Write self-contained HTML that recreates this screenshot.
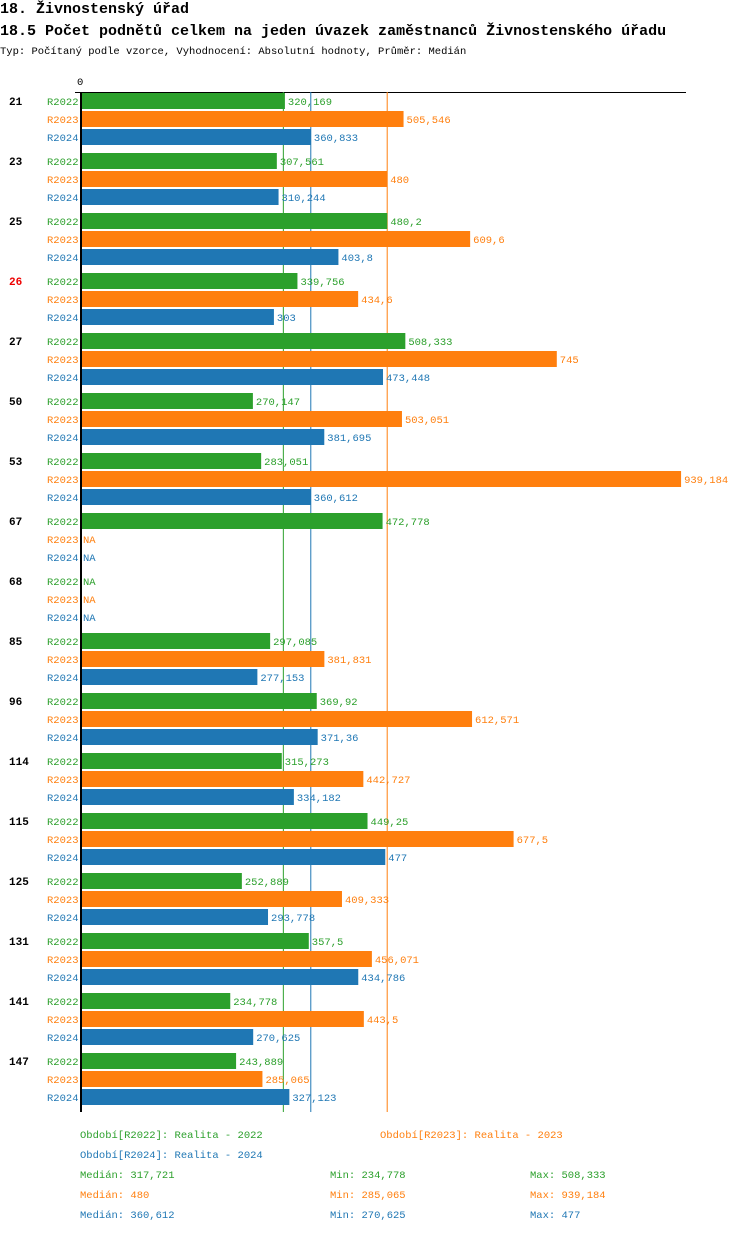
<!DOCTYPE html>
<html><head><meta charset="utf-8"><style>
body{margin:0;background:#fff;width:750px;height:1232px;overflow:hidden;font-family:"Liberation Mono",monospace}
</style></head><body>
<svg id="c" width="750" height="1232" xmlns="http://www.w3.org/2000/svg" font-family="Liberation Mono, monospace">
<text x="0" y="13" font-size="15" font-weight="bold" fill="#000">18. Živnostenský úřad</text>
<text x="0" y="35" font-size="15" font-weight="bold" fill="#000">18.5 Počet podnětů celkem na jeden úvazek zaměstnanců Živnostenského úřadu</text>
<text x="0" y="54" font-size="10.5" fill="#000">Typ: Počítaný podle vzorce, Vyhodnocení: Absolutní hodnoty, Průměr: Medián</text>
<text x="77" y="85" font-size="10.5" fill="#000">0</text>
<line x1="75" y1="92.5" x2="686" y2="92.5" stroke="#000" stroke-width="1"/>
<g id="lines"></g>
<g id="bars"></g>
<g id="legend" font-size="10.5"></g>
</svg>
<script>
const groups=["21","23","25","26","27","50","53","67","68","85","96","114","115","125","131","141","147"];
const r2022=[320.169,307.561,480.2,339.756,508.333,270.147,283.051,472.778,null,297.085,369.92,315.273,449.25,252.889,357.5,234.778,243.889];
const r2023=[505.546,480,609.6,434.6,745,503.051,939.184,null,null,381.831,612.571,442.727,677.5,409.333,456.071,443.5,285.065];
const r2024=[360.833,310.244,403.8,303,473.448,381.695,360.612,null,null,277.153,371.36,334.182,477,293.778,434.786,270.625,327.123];
const seriesNames=["R2022","R2023","R2024"];
const medians=[317.721,480,360.612];
const mins=[234.778,285.065,270.625];
const maxs=[508.333,939.184,477];
const colors=["#2ca02c","#ff7f0e","#1f77b4"];
const NS="http://www.w3.org/2000/svg";
const x=v=>80+v*0.64;
const y0=92, groupStep=60, rowStep=18, barH=16;
const fmt=v=>String(v).replace('.',',');
const g=document.getElementById('bars');
const lg0=document.getElementById('lines');
function el(t,a,p){const e=document.createElementNS(NS,t);for(const k in a)e.setAttribute(k,a[k]);(p||g).appendChild(e);return e;}
const data=[r2022,r2023,r2024];
const bottom=y0+groups.length*groupStep;
medians.forEach((m,k)=>{
  const l=el('line',{x1:x(m),y1:y0,x2:x(m),y2:bottom,stroke:colors[k],'stroke-width':1},lg0);
  
  
});
groups.forEach((gr,i)=>{
  const gy=y0+i*groupStep;
  const t=el('text',{x:9,y:gy+13,'font-size':11,'font-weight':'bold',fill:gr==="26"?"#e00":"#000"});
  
  
  t.textContent=gr;
  data.forEach((s,k)=>{
    const ry=gy+1+k*rowStep;
    const lb=el('text',{x:47,y:ry+12,'font-size':10.5,fill:colors[k]});
    
    
    lb.textContent=seriesNames[k];
    const v=s[i];
    if(v!==null){
      const r=el('rect',{x:80,y:ry,width:x(v)-80,height:barH,fill:colors[k]});
      
      
    }
    const vt=el('text',{x:(v===null?80:x(v))+3,y:ry+12,'font-size':10.5,fill:colors[k]});
    
    
    vt.textContent=v===null?"NA":fmt(v);
  });
});
const za=el('line',{x1:81,y1:y0,x2:81,y2:bottom,stroke:'#000','stroke-width':2});


const lg=document.getElementById('legend');
function lt(xx,yy,c,s,n){const t=el('text',{x:xx,y:yy,fill:c},lg);t.textContent=s;}
lt(80,1138,colors[0],"Období[R2022]: Realita - 2022",'legend-entry');
lt(380,1138,colors[1],"Období[R2023]: Realita - 2023",'legend-entry');
lt(80,1158,colors[2],"Období[R2024]: Realita - 2024",'legend-entry');
[0,1,2].forEach(k=>{
  const yy=1178+k*20;
  lt(80,yy,colors[k],"Medián: "+fmt(medians[k]),'median-stat');
  lt(330,yy,colors[k],"Min: "+fmt(mins[k]),'min-stat');
  lt(530,yy,colors[k],"Max: "+fmt(maxs[k]),'max-stat');
});
</script>
</body></html>
